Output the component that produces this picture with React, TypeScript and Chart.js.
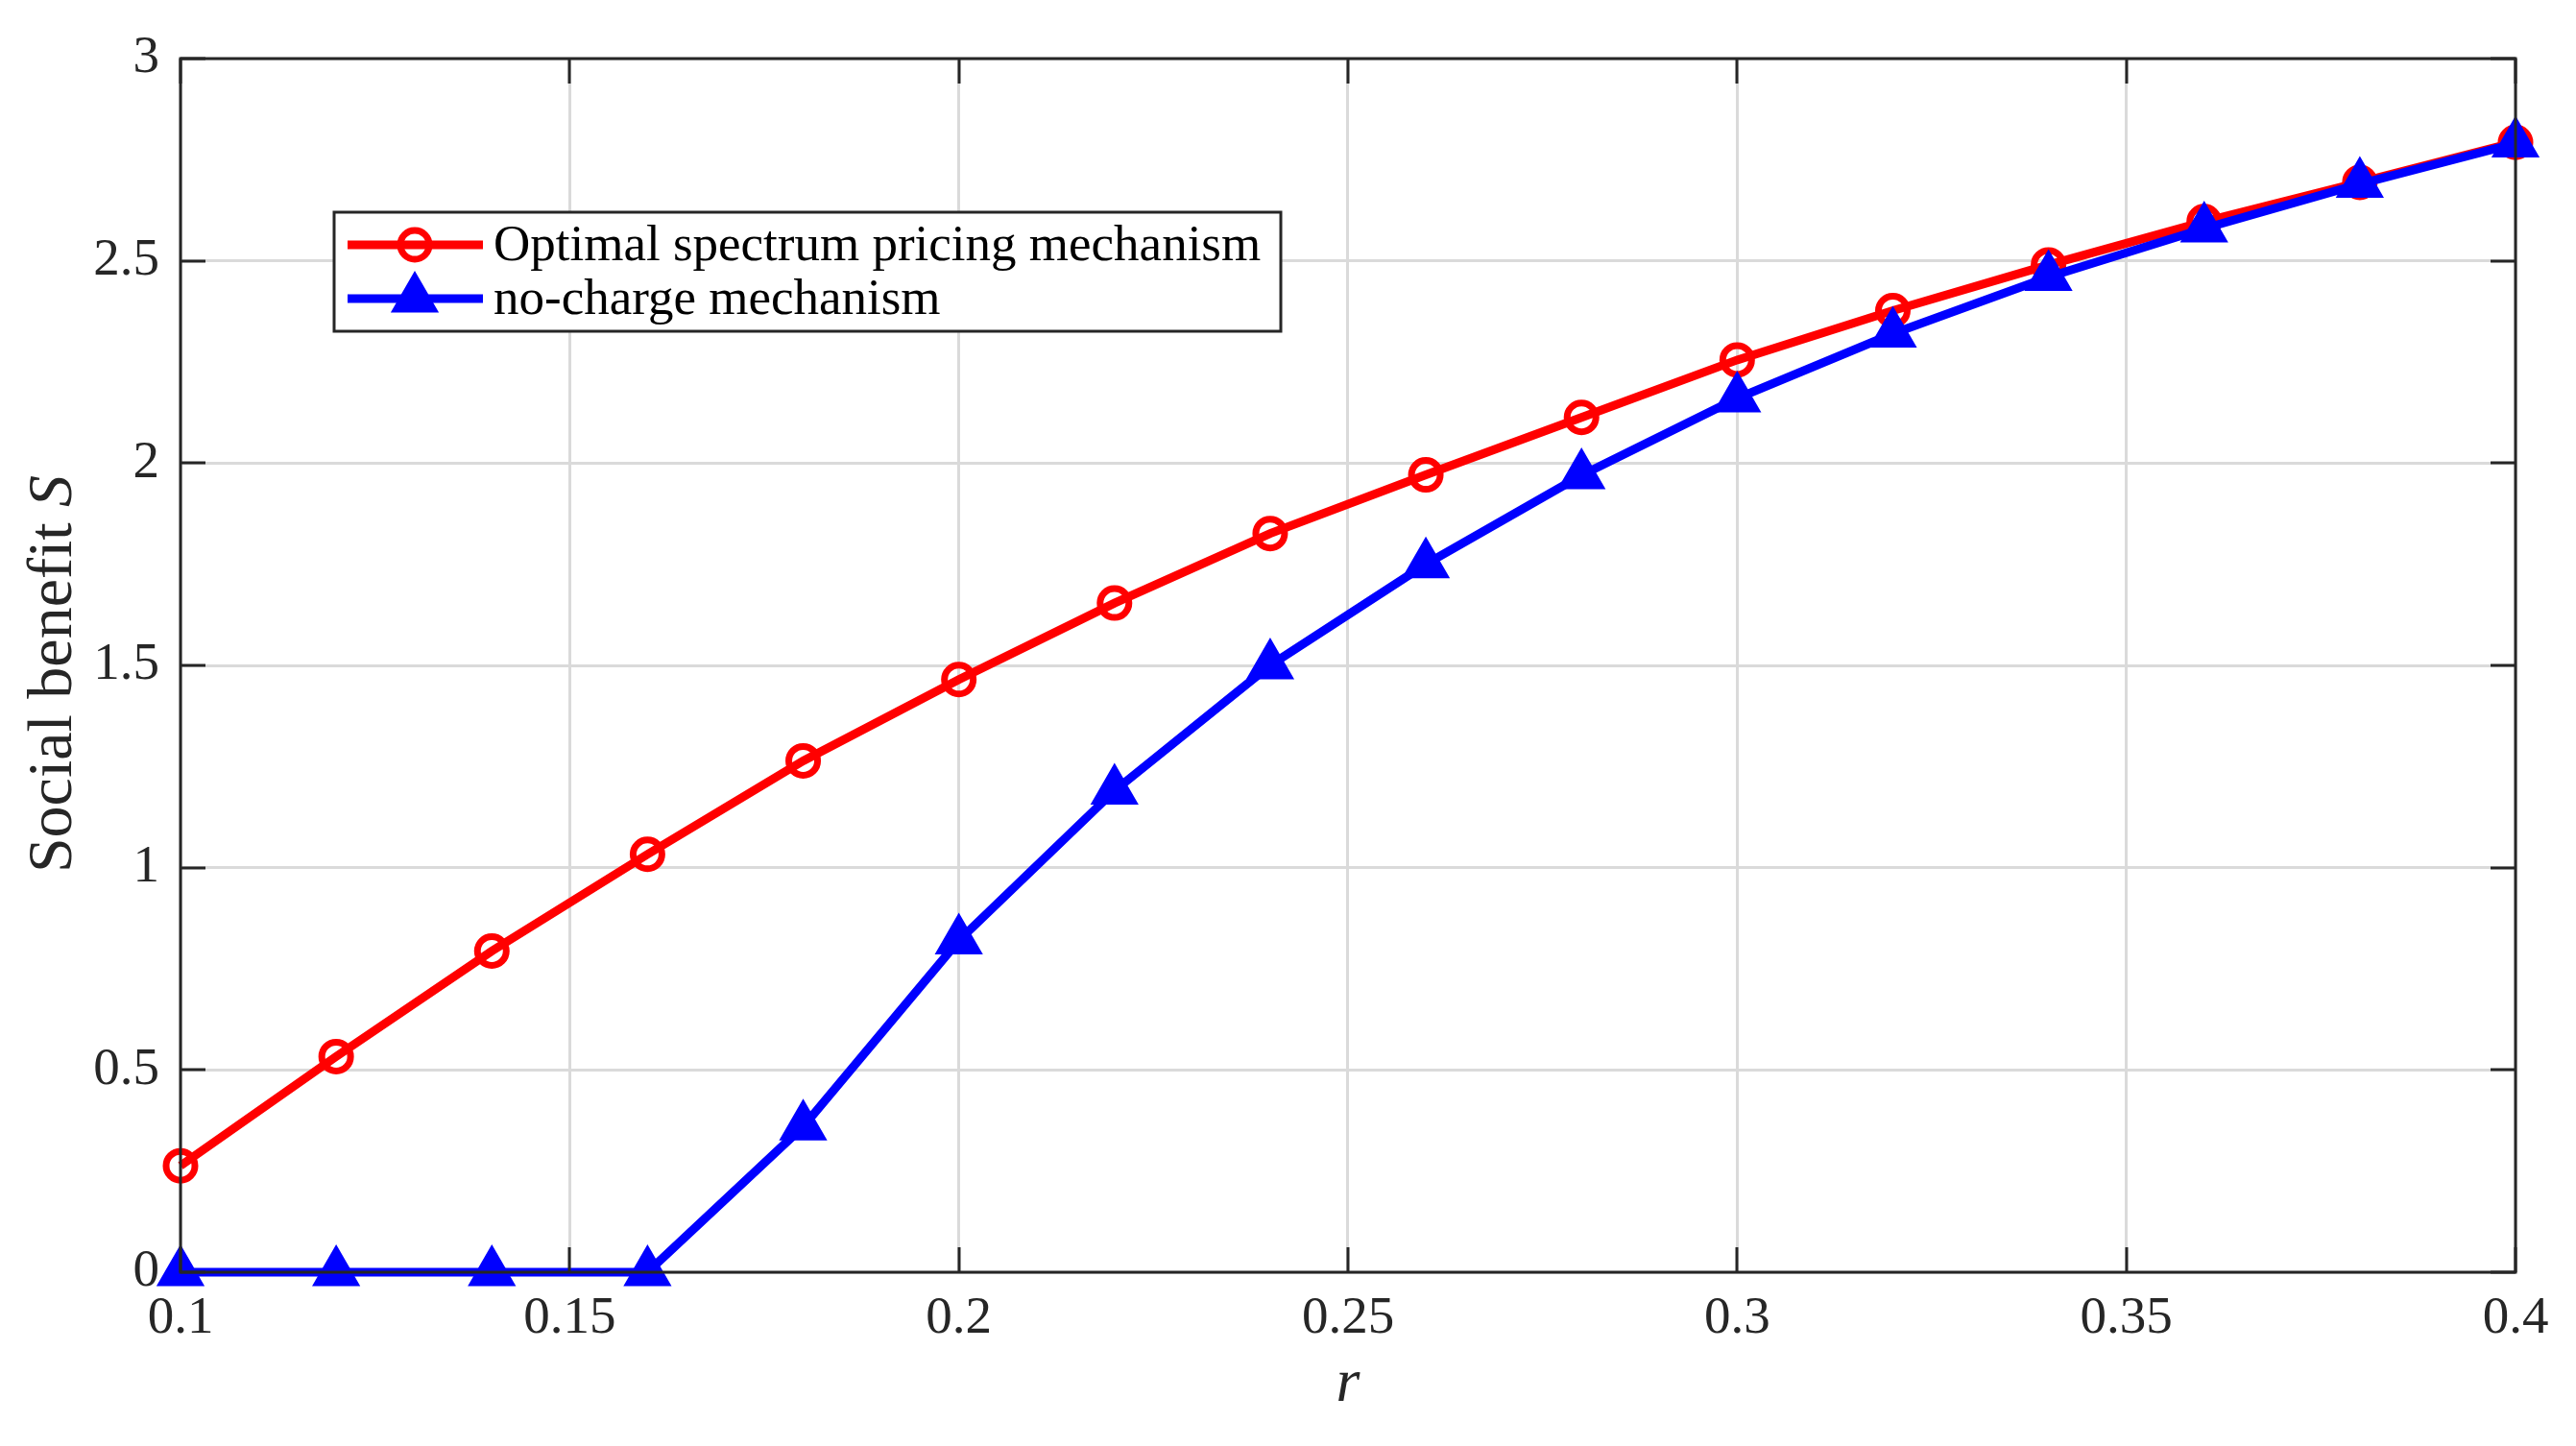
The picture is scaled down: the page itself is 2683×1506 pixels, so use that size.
import React, { useEffect, useRef } from "react";
import { Chart, registerables } from "chart.js";

Chart.register(...registerables);

// ---- data ----
const rValues = [0.10, 0.12, 0.14, 0.16, 0.18, 0.20, 0.22, 0.24, 0.26, 0.28, 0.30, 0.32, 0.34, 0.36, 0.38, 0.40];
const optimalPricing = [0.263, 0.533, 0.794, 1.033, 1.264, 1.465, 1.654, 1.826, 1.971, 2.113, 2.255, 2.377, 2.490, 2.597, 2.694, 2.793];
const noCharge = [0, 0, 0, 0, 0.36, 0.82, 1.19, 1.50, 1.75, 1.97, 2.16, 2.32, 2.46, 2.58, 2.69, 2.79];
const xTicks = [0.1, 0.15, 0.2, 0.25, 0.3, 0.35, 0.4];
const yTicks = [0, 0.5, 1, 1.5, 2, 2.5, 3];
const seriesNames = ["Optimal spectrum pricing mechanism", "no-charge mechanism"];
const xTitle = "r";
const yTitleMain = "Social benefit ";
const yTitleVar = "S";

const FONT = "'Liberation Serif', 'Times New Roman', serif";
const AXIS = "#262626";
const RED = "#ff0000";
const BLUE = "#0000ff";
const GRID = "#dadada";

const fmt = (v: number) => String(Number(v.toFixed(2)));

const framePlugin = {
  id: "matlabFrame",
  afterDatasetsDraw(chart: any) {
    const { ctx, chartArea } = chart;
    const { left, right, top, bottom } = chartArea;
    const xs = chart.scales.x;
    const ys = chart.scales.y;
    ctx.save();
    // frame
    ctx.strokeStyle = AXIS;
    ctx.lineWidth = 3;
    ctx.lineCap = "square";
    ctx.strokeRect(left, top, right - left, bottom - top);
    // inside ticks
    const tl = 26;
    ctx.beginPath();
    xTicks.forEach((v) => {
      const px = Math.round(xs.getPixelForValue(v));
      ctx.moveTo(px, bottom);
      ctx.lineTo(px, bottom - tl);
      ctx.moveTo(px, top);
      ctx.lineTo(px, top + tl);
    });
    yTicks.forEach((v) => {
      const py = Math.round(ys.getPixelForValue(v));
      ctx.moveTo(left, py);
      ctx.lineTo(left + tl, py);
      ctx.moveTo(right, py);
      ctx.lineTo(right - tl, py);
    });
    ctx.lineCap = "butt";
    ctx.stroke();

    // legend
    const bx = 348, by = 221, bw = 986, bh = 124;
    ctx.fillStyle = "#ffffff";
    ctx.fillRect(bx, by, bw, bh);
    ctx.lineWidth = 3;
    ctx.strokeStyle = AXIS;
    ctx.strokeRect(bx, by, bw, bh);
    const rows = [by + 34, by + 90];
    const x0 = 362, x1 = 503, xm = 432;
    chart.data.datasets.forEach((ds: any, i: number) => {
      const y = rows[i];
      ctx.strokeStyle = ds.borderColor;
      ctx.lineWidth = ds.borderWidth;
      ctx.beginPath();
      ctx.moveTo(x0, y);
      ctx.lineTo(x1, y);
      ctx.stroke();
      if (ds.pointStyle === "circle") {
        ctx.lineWidth = ds.pointBorderWidth;
        ctx.beginPath();
        ctx.arc(xm, y, ds.pointRadius, 0, Math.PI * 2);
        ctx.stroke();
      } else {
        const r = ds.pointRadius;
        ctx.fillStyle = ds.pointBackgroundColor;
        ctx.lineWidth = ds.pointBorderWidth;
        ctx.beginPath();
        let a = 0;
        ctx.moveTo(xm + Math.sin(a) * r, y - Math.cos(a) * r);
        a += (2 * Math.PI) / 3;
        ctx.lineTo(xm + Math.sin(a) * r, y - Math.cos(a) * r);
        a += (2 * Math.PI) / 3;
        ctx.lineTo(xm + Math.sin(a) * r, y - Math.cos(a) * r);
        ctx.closePath();
        ctx.fill();
        ctx.stroke();
      }
      ctx.fillStyle = "#000000";
      ctx.font = `53px ${FONT}`;
      ctx.textAlign = "left";
      ctx.textBaseline = "middle";
      ctx.fillText(ds.label, 514, y + 2);
    });

    // y title
    ctx.translate(74, 702);
    ctx.rotate(-Math.PI / 2);
    ctx.fillStyle = AXIS;
    ctx.textBaseline = "alphabetic";
    ctx.textAlign = "left";
    const fMain = `66px ${FONT}`;
    const fVar = `italic 66px ${FONT}`;
    ctx.font = fMain;
    const w1 = ctx.measureText(yTitleMain).width;
    ctx.font = fVar;
    const w2 = ctx.measureText(yTitleVar).width;
    const start = -(w1 + w2) / 2;
    ctx.font = fMain;
    ctx.fillText(yTitleMain, start, 0);
    ctx.font = fVar;
    ctx.fillText(yTitleVar, start + w1, 0);
    ctx.restore();
  },
};

export default function App() {
  const canvasRef = useRef<HTMLCanvasElement | null>(null);

  useEffect(() => {
    document.body.style.margin = "0";
    const canvas = canvasRef.current;
    if (!canvas) return;
    const chart = new Chart(canvas, {
      type: "line",
      data: {
        datasets: [
          {
            label: seriesNames[0],
            data: rValues.map((x, i) => ({ x, y: optimalPricing[i] })),
            borderColor: RED,
            borderWidth: 9,
            pointStyle: "circle",
            pointRadius: 15,
            pointBorderWidth: 7,
            pointBorderColor: RED,
            pointBackgroundColor: "rgba(0,0,0,0)",
            pointHoverRadius: 15,
            tension: 0,
            clip: false,
            order: 2,
          } as any,
          {
            label: seriesNames[1],
            data: rValues.map((x, i) => ({ x, y: noCharge[i] })),
            borderColor: BLUE,
            borderWidth: 9,
            pointStyle: "triangle",
            pointRadius: 27,
            pointBorderWidth: 2,
            pointBorderColor: BLUE,
            pointBackgroundColor: BLUE,
            pointHoverRadius: 27,
            tension: 0,
            clip: false,
            order: 1,
          } as any,
        ],
      },
      options: {
        responsive: false,
        animation: false,
        devicePixelRatio: 1,
        events: [],
        layout: { padding: { left: 0, top: 61, right: 63, bottom: 0 } },
        plugins: {
          legend: { display: false },
          tooltip: { enabled: false },
          title: { display: false },
        },
        scales: {
          x: {
            type: "linear",
            min: 0.1,
            max: 0.4,
            afterBuildTicks: (axis: any) => {
              axis.ticks = xTicks.map((v) => ({ value: v }));
            },
            afterFit: (axis: any) => {
              axis.height = 181;
            },
            border: { display: false },
            grid: { color: GRID, lineWidth: 3, drawTicks: false, tickLength: 0 },
            ticks: {
              color: AXIS,
              font: { family: FONT, size: 55 },
              padding: 16,
              maxRotation: 0,
              autoSkip: false,
              callback: (v: any) => fmt(Number(v)),
            },
            title: {
              display: true,
              text: xTitle,
              color: AXIS,
              font: { family: FONT, size: 64, style: "italic" },
              padding: { top: 0, bottom: 25 },
            },
          },
          y: {
            type: "linear",
            min: 0,
            max: 3,
            afterBuildTicks: (axis: any) => {
              axis.ticks = yTicks.map((v) => ({ value: v }));
            },
            afterFit: (axis: any) => {
              axis.width = 188;
            },
            border: { display: false },
            grid: { color: GRID, lineWidth: 3, drawTicks: false, tickLength: 0 },
            ticks: {
              color: AXIS,
              font: { family: FONT, size: 55 },
              padding: 22,
              autoSkip: false,
              callback: (v: any) => fmt(Number(v)),
            },
          },
        },
      } as any,
      plugins: [framePlugin],
    });
    return () => chart.destroy();
  }, []);

  return (
    <div style={{ position: "absolute", left: 0, top: 0, width: 2683, height: 1506, background: "#ffffff" }}>
      <canvas ref={canvasRef} width={2683} height={1506} style={{ width: 2683, height: 1506, display: "block" }} />
    </div>
  );
}
